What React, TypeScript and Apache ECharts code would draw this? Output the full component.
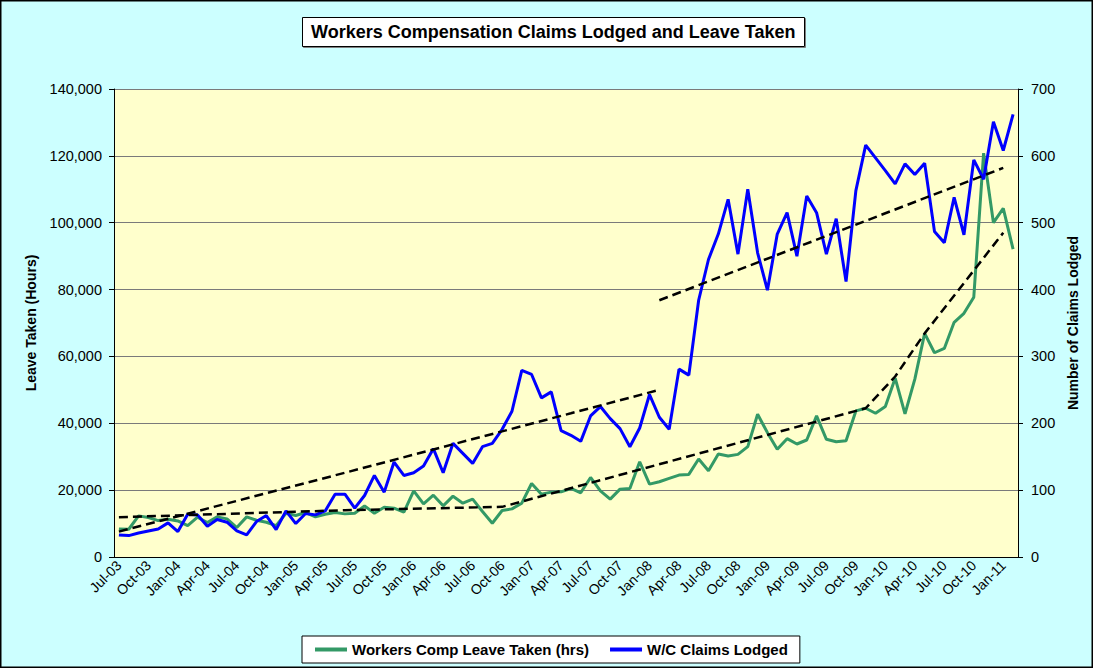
import React, { useEffect, useRef } from "react";
import * as echarts from "echarts";

const MONTH_NAMES = ["Jan", "Feb", "Mar", "Apr", "May", "Jun", "Jul", "Aug", "Sep", "Oct", "Nov", "Dec"];
const START_YEAR = 2003;
const START_MONTH = 6; // Jul
const MONTH_COUNT = 92; // Jul-03 .. Feb-11

const CATEGORIES: string[] = [];
for (let k = 0; k < MONTH_COUNT; k++) {
  const m = (START_MONTH + k) % 12;
  const y = START_YEAR + Math.floor((START_MONTH + k) / 12);
  CATEGORIES.push(MONTH_NAMES[m] + "-" + String(y % 100).padStart(2, "0"));
}

// Workers Comp Leave Taken (hrs), monthly
const LEAVE_TAKEN = [
  8400, 8300, 12300, 11800, 10900, 11300, 10800, 9400, 11900, 10300, 12000, 11400,
  8800, 12000, 11000, 10400, 9400, 13100, 12400, 13300, 12000, 12800, 13300, 12900,
  13100, 15300, 13100, 14900, 14600, 13400, 19800, 15900, 18500, 15300, 18200, 16100,
  17300, 13600, 10100, 13900, 14400, 16100, 22000, 18800, 19400, 19500, 20500, 19200,
  23800, 19800, 17300, 20300, 20500, 28500, 21800, 22500, 23500, 24500, 24700, 29300,
  25800, 30800, 30200, 30700, 33000, 42700, 37200, 32200, 35400, 33800, 35000, 42200,
  35200, 34500, 34800, 43700, 44500, 43000, 45000, 53500, 42800, 53200, 66900, 61100,
  62400, 70200, 72900, 77700, 120800, 100000, 104300, 92100,
];

// W/C Claims Lodged, monthly
const CLAIMS_LODGED = [
  33, 32, 36, 39, 42, 51, 38, 64, 63, 46, 56, 52,
  39, 33, 53, 62, 41, 69, 50, 65, 63, 69, 94, 94,
  73, 92, 122, 97, 142, 122, 126, 136, 162, 126, 170, 155,
  140, 165, 170, 191, 218, 279, 273, 238, 247, 189, 182, 173,
  211, 225, 207, 192, 165, 193, 243, 209, 191, 281, 272, 384,
  445, 483, 535, 453, 550, 455, 399, 483, 515, 450, 540, 515,
  453, 506, 412, 548, 616, 597, 578, 558, 588, 572, 589, 487,
  470, 538, 482, 594, 565, 651, 608, 662,
];

// Trend lines: [category index, value]
const LEAVE_TREND: [number, number][] = [
  [0, 11900], [23, 14000], [39, 15000], [76, 44500], [79, 54000], [82, 66900], [90, 97000],
];
const CLAIMS_TREND_EARLY: [number, number][] = [
  [0, 38], [23, 126], [46, 215], [55, 250],
];
const CLAIMS_TREND_LATE: [number, number][] = [
  [55, 384], [90, 582],
];

const LEFT_TICKS_MAX = 140000;
const LEFT_TICKS_STEP = 20000;
const RIGHT_TICKS_MAX = 700;
const RIGHT_TICKS_STEP = 100;

const FONT = "'Liberation Sans', Arial, sans-serif";

export default function App() {
  const ref = useRef<HTMLDivElement>(null);

  useEffect(() => {
    document.body.style.margin = "0";
    if (!ref.current) return;
    const chart = echarts.init(ref.current, undefined, { renderer: "svg" });

    const trendStyle = {
      type: "line" as const,
      symbol: "none",
      silent: true,
      connectNulls: true,
      z: 5,
      lineStyle: { color: "#000000", width: 2.5, type: [9, 5] as any },
    };

    const toPairs = (arr: [number, number][]) => arr.map(([i, v]) => [CATEGORIES[i], v]);

    chart.setOption({
      animation: false,
      backgroundColor: "#CCFFFF",
      textStyle: { fontFamily: FONT },
      title: {
        text: "Workers Compensation Claims Lodged and Leave Taken",
        left: 302,
        top: 17,
        padding: [6, 9, 6, 9],
        backgroundColor: "#FFFFFF",
        borderColor: "#000000",
        borderWidth: 1,
        shadowColor: "#808080",
        shadowOffsetX: 1,
        shadowOffsetY: 1,
        shadowBlur: 0,
        textStyle: { fontFamily: FONT, fontSize: 18, fontWeight: "bold", color: "#000000" },
      },
      legend: {
        data: ["Workers Comp Leave Taken (hrs)", "W/C Claims Lodged"],
        left: 302,
        top: 636,
        backgroundColor: "#FFFFFF",
        borderColor: "#000000",
        borderWidth: 1,
        padding: [6, 12, 6, 13],
        itemGap: 21,
        itemWidth: 32,
        itemHeight: 4,
        icon: "rect",
        textStyle: { fontFamily: FONT, fontSize: 15, fontWeight: "bold", color: "#000000" },
      },
      grid: {
        left: 114,
        right: 75,
        top: 89,
        bottom: 111,
        show: true,
        backgroundColor: "#FFFFCC",
        borderWidth: 0,
      },
      graphic: [
        {
          type: "rect",
          shape: { x: 0.75, y: 0.75, width: 1091.5, height: 666.5 },
          style: { fill: "none", stroke: "#000000", lineWidth: 1.5 },
          silent: true,
          z: 100,
        },
      ],
      xAxis: {
        type: "category",
        data: CATEGORIES,
        boundaryGap: true,
        axisLine: { lineStyle: { color: "#000000", width: 1 } },
        axisTick: { interval: 2, length: 5, lineStyle: { color: "#000000" } },
        axisLabel: {
          interval: 2,
          rotate: 45,
          fontSize: 14,
          color: "#000000",
          fontFamily: FONT,
          margin: 6,
        },
        splitLine: { show: false },
      },
      yAxis: [
        {
          type: "value",
          min: 0,
          max: LEFT_TICKS_MAX,
          interval: LEFT_TICKS_STEP,
          position: "left",
          name: "Leave Taken (Hours)",
          nameLocation: "middle",
          nameGap: 76,
          nameTextStyle: { fontFamily: FONT, fontSize: 14, fontWeight: "bold", color: "#000000" },
          axisLine: { show: true, lineStyle: { color: "#000000", width: 1 } },
          axisTick: { show: true, length: 5, lineStyle: { color: "#000000" } },
          axisLabel: {
            fontSize: 14.5,
            color: "#000000",
            fontFamily: FONT,
            margin: 12,
            formatter: (v: number) => v.toLocaleString("en-US"),
          },
          splitLine: { show: true, lineStyle: { color: "#7a7a7a", width: 1 } },
        },
        {
          type: "value",
          min: 0,
          max: RIGHT_TICKS_MAX,
          interval: RIGHT_TICKS_STEP,
          position: "right",
          name: "Number of Claims Lodged",
          nameLocation: "middle",
          nameGap: 46,
          nameRotate: 90,
          nameTextStyle: { fontFamily: FONT, fontSize: 14, fontWeight: "bold", color: "#000000" },
          axisLine: { show: true, lineStyle: { color: "#000000", width: 1 } },
          axisTick: { show: true, length: 5, lineStyle: { color: "#000000" } },
          axisLabel: { fontSize: 14.5, color: "#000000", fontFamily: FONT, margin: 13 },
          splitLine: { show: false },
        },
      ],
      series: [
        {
          name: "Workers Comp Leave Taken (hrs)",
          type: "line",
          yAxisIndex: 0,
          data: LEAVE_TAKEN,
          symbol: "none",
          color: "#339966",
          lineStyle: { color: "#339966", width: 3 },
          z: 3,
        },
        {
          name: "W/C Claims Lodged",
          type: "line",
          yAxisIndex: 1,
          data: CLAIMS_LODGED,
          symbol: "none",
          color: "#0000FF",
          lineStyle: { color: "#0000FF", width: 3 },
          z: 4,
        },
        { ...trendStyle, name: "Leave trend", yAxisIndex: 0, data: toPairs(LEAVE_TREND) },
        { ...trendStyle, name: "Claims trend early", yAxisIndex: 1, data: toPairs(CLAIMS_TREND_EARLY) },
        { ...trendStyle, name: "Claims trend late", yAxisIndex: 1, data: toPairs(CLAIMS_TREND_LATE) },
      ],
    });

    return () => chart.dispose();
  }, []);

  return <div ref={ref} style={{ width: 1093, height: 668 }} />;
}
